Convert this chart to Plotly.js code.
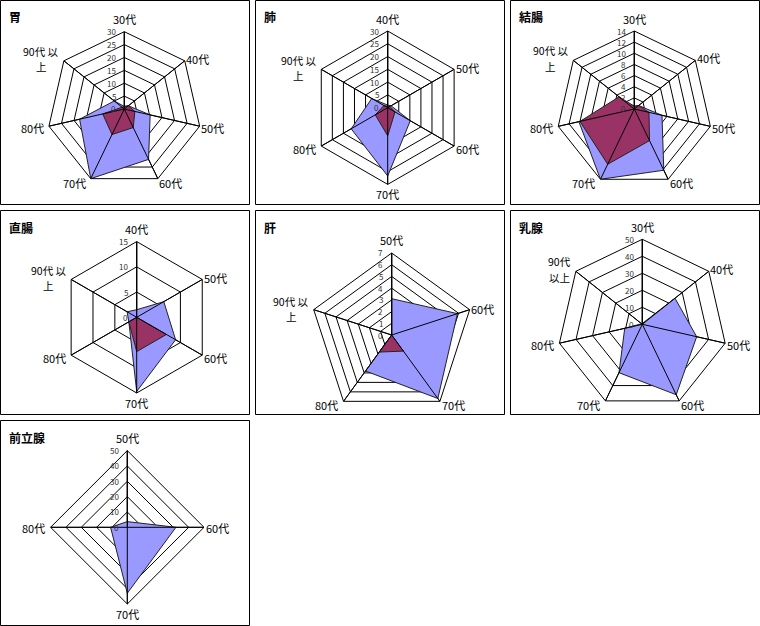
<!DOCTYPE html>
<html>
<head>
<meta charset="utf-8">
<script src="https://cdn.plot.ly/plotly-3.0.1.min.js"></script>
<style>html,body{margin:0;padding:0;background:#fff;}#chart{width:760px;height:626px;}</style>
</head>
<body>
<div id="chart"></div>
<script>
// ---- data ----
const cats7 = ['30代', '40代', '50代', '60代', '70代', '80代', '90代 以<br>上'];
const cats6 = ['40代', '50代', '60代', '70代', '80代', '90代 以<br>上'];
const cats5 = ['50代', '60代', '70代', '80代', '90代 以<br>上'];
const catsBreast = ['30代', '40代', '50代', '60代', '70代', '80代', '90代<br>以上'];
const cats4 = ['50代', '60代', '70代', '80代'];

const stomachA = [1, 2, 10.3, 21.7, 30, 17.8, 5];
const stomachB = [1, 2, 4.2, 8, 11, 8.6, 1.1];
const lungA = [1, 1.5, 10.2, 26.7, 16.5, 7.2];
const lungB = [0.5, 1, 3.3, 11, 5.6, 1.7];
const colonA = [0.5, 1, 5.1, 12.2, 14, 10.2, 2];
const colonB = [0.5, 1, 2.7, 6.3, 11, 10, 3.5];
const rectumA = [1.5, 6.2, 8.9, 14.7, 1.8, 2.2];
const rectumB = [0, 0, 6.8, 6.8, 1.8, 0];
const liverA = [3.1, 5.9, 6.7, 3.8, 0];
const liverB = [0, 0, 1.7, 1.8, 0];
const breastA = [0.5, 24.6, 32.8, 46, 31.6, 10.6, 0.5];
const prostateA = [3.7, 31.7, 43, 10.9];

const titles = ['胃', '肺', '結腸', '直腸', '肝', '乳腺', '前立腺'];
const rangeMax = [30, 30, 14, 15, 7, 50, 50];
const tickStep = [5, 5, 2, 5, 1, 10, 10];

// ---- layout geometry (pixels) ----
const W = 760, H = 626;
const panels = [
  {cats: cats7, A: stomachA, B: stomachB, cx: 124.3, cy: 109, r: 77.3, box: [0, 0, 249, 204]},
  {cats: cats6, A: lungA, B: lungB, cx: 387.7, cy: 107.7, r: 76.7, box: [255, 0, 504, 204]},
  {cats: cats7, A: colonA, B: colonB, cx: 634.3, cy: 109, r: 78, box: [510, 0, 759, 204]},
  {cats: cats6, A: rectumA, B: rectumB, cx: 136.7, cy: 317.3, r: 75.7, box: [0, 210, 249, 414]},
  {cats: cats5, A: liverA, B: liverB, cx: 391.7, cy: 335, r: 82, box: [255, 210, 504, 414]},
  {cats: catsBreast, A: breastA, B: null, cx: 642.3, cy: 324.3, r: 85, box: [510, 210, 759, 414]},
  {cats: cats4, A: prostateA, B: null, cx: 127.3, cy: 527.3, r: 76.7, box: [0, 420, 249, 625]}
];

const blueFill = '#9999FF';
const maroonFill = '#993366';
const FONT = '"Noto Sans CJK JP", "DejaVu Sans", sans-serif';
const LABEL_SIZE = 11;
const MULTI_SIZE = 10.5;
const LINE_GAP = 15.5;

const measureCtx = document.createElement('canvas').getContext('2d');
const textW = (t, size) => {
  measureCtx.font = size + 'px "Noto Sans CJK JP", "DejaVu Sans", sans-serif';
  return measureCtx.measureText(t).width;
};

const traces = [];
const layout = {
  width: W, height: H,
  margin: {l: 0, r: 0, t: 0, b: 0},
  paper_bgcolor: '#fff',
  showlegend: false,
  hovermode: false,
  font: {family: FONT, color: '#000'},
  shapes: [],
  annotations: []
};

function closeLoop(arr) { return arr.concat([arr[0]]); }
const px = x => x / W;
const py = y => 1 - y / H;

function addText(text, x, y, xa, size, color) {
  layout.annotations.push({
    text: text, xref: 'paper', yref: 'paper', x: px(x), y: py(y),
    xanchor: xa, yanchor: 'middle', align: 'center', showarrow: false,
    font: {size: size, color: color, family: FONT}, borderpad: 0
  });
}

panels.forEach((p, i) => {
  const id = i === 0 ? 'polar' : 'polar' + (i + 1);
  const max = rangeMax[i];
  const seriesList = [[p.A, blueFill]];
  if (p.B) seriesList.push([p.B, maroonFill]);
  seriesList.forEach(([vals, col]) => {
    traces.push({
      type: 'scatterpolar', subplot: id,
      r: closeLoop(vals), theta: closeLoop(p.cats),
      mode: 'lines', fill: 'toself', fillcolor: col,
      line: {color: '#222', width: 1}
    });
  });
  // spokes drawn above the fills, as in the original chart
  const sr = [], st = [];
  p.cats.forEach(c => { sr.push(0, max, null); st.push(c, c, c); });
  traces.push({
    type: 'scatterpolar', subplot: id, r: sr, theta: st,
    mode: 'lines', line: {color: '#000', width: 1}, connectgaps: false
  });

  layout[id] = {
    domain: {
      x: [px(p.cx - p.r), px(p.cx + p.r)],
      y: [py(p.cy + p.r), py(p.cy - p.r)]
    },
    gridshape: 'linear',
    bgcolor: 'rgba(0,0,0,0)',
    radialaxis: {
      range: [0, max], dtick: tickStep[i], tick0: 0,
      angle: 90, showline: true, linecolor: '#000', linewidth: 1,
      gridcolor: '#000', gridwidth: 1, ticks: '', showticklabels: false
    },
    angularaxis: {
      type: 'category', categoryarray: p.cats, categoryorder: 'array',
      rotation: 90, direction: 'clockwise',
      showline: true, linecolor: '#000', linewidth: 1,
      gridcolor: '#000', gridwidth: 1, ticks: '', showticklabels: false
    }
  };

  // radial tick labels, left of the vertical axis
  for (let v = 0; v <= max + 1e-9; v += tickStep[i]) {
    addText(String(v), p.cx - 7.5, p.cy - p.r * v / max, 'right', 8, '#333');
  }

  // category labels placed outside each outer vertex
  const n = p.cats.length;
  p.cats.forEach((c, k) => {
    const th = 2 * Math.PI * k / n;
    const s = Math.sin(th), co = Math.cos(th);
    const vx = p.cx + p.r * s, vy = p.cy - p.r * co;
    const lines = c.split('<br>');
    const size = lines.length > 1 ? MULTI_SIZE : LABEL_SIZE;
    const bw = Math.max.apply(null, lines.map(t => textW(t, size)));
    let cxL, cy;
    if (Math.abs(s) < 0.1) {
      cxL = vx; cy = co > 0 ? vy - 12.5 : vy + 10;
    } else if (s > 0) {
      cxL = vx + 1.5 + bw / 2; cy = vy - 4 * co + 0.5;
    } else {
      cxL = vx - 5 - bw / 2; cy = vy - 4 * co + 0.5;
    }
    const top = cy - LINE_GAP * (lines.length - 1) / 2;
    lines.forEach((t, j) => addText(t, cxL, top + j * LINE_GAP, 'center', size, '#000'));
  });

  const [x0, y0, x1, y1] = p.box;
  layout.shapes.push({
    type: 'rect', xref: 'paper', yref: 'paper',
    x0: px(x0 + 0.5), x1: px(x1 + 0.5),
    y0: py(y1 + 0.5), y1: py(y0 + 0.5),
    line: {color: '#000', width: 1}
  });
  layout.annotations.push({
    text: '<b>' + titles[i] + '</b>', xref: 'paper', yref: 'paper',
    x: px(x0 + 7), y: py(y0 + 17), xanchor: 'left', yanchor: 'middle',
    showarrow: false, font: {size: 12, color: '#000', family: FONT}
  });
});

Plotly.newPlot('chart', traces, layout, {displayModeBar: false, staticPlot: true});
</script>
</body>
</html>
